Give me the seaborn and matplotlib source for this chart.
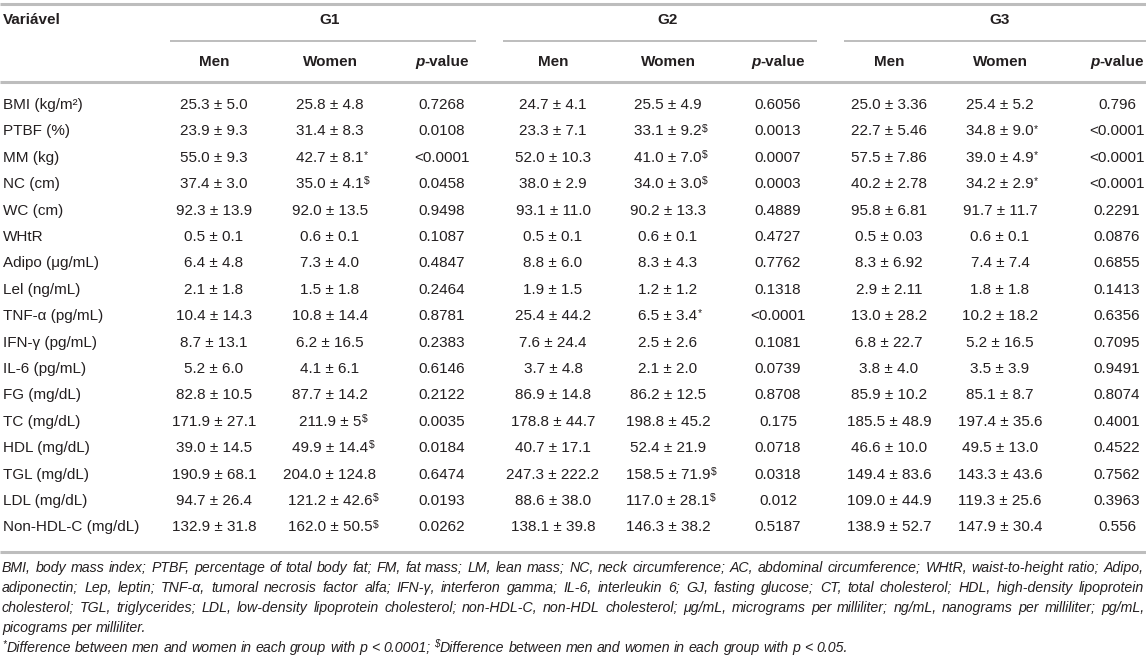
import matplotlib
matplotlib.use("Agg")
import matplotlib.pyplot as plt
import seaborn as sns

# ---- dados da tabela ----
variables = ["BMI (kg/m²)", "PTBF (%)", "MM (kg)", "NC (cm)", "WC (cm)", "WHtR",
             "Adipo (μg/mL)", "Lel (ng/mL)", "TNF-α (pg/mL)", "IFN-γ (pg/mL)",
             "IL-6 (pg/mL)", "FG (mg/dL)", "TC (mg/dL)", "HDL (mg/dL)",
             "TGL (mg/dL)", "LDL (mg/dL)", "Non-HDL-C (mg/dL)"]

g1_men = ["25.3 ± 5.0", "23.9 ± 9.3", "55.0 ± 9.3", "37.4 ± 3.0", "92.3 ± 13.9", "0.5 ± 0.1",
          "6.4 ± 4.8", "2.1 ± 1.8", "10.4 ± 14.3", "8.7 ± 13.1", "5.2 ± 6.0", "82.8 ± 10.5",
          "171.9 ± 27.1", "39.0 ± 14.5", "190.9 ± 68.1", "94.7 ± 26.4", "132.9 ± 31.8"]
g1_women = ["25.8 ± 4.8", "31.4 ± 8.3", "42.7 ± 8.1", "35.0 ± 4.1", "92.0 ± 13.5", "0.6 ± 0.1",
            "7.3 ± 4.0", "1.5 ± 1.8", "10.8 ± 14.4", "6.2 ± 16.5", "4.1 ± 6.1", "87.7 ± 14.2",
            "211.9 ± 5", "49.9 ± 14.4", "204.0 ± 124.8", "121.2 ± 42.6", "162.0 ± 50.5"]
g1_sig = ["", "", "*", "$", "", "", "", "", "", "", "", "", "$", "$", "", "$", "$"]
g1_p = ["0.7268", "0.0108", "<0.0001", "0.0458", "0.9498", "0.1087", "0.4847", "0.2464",
        "0.8781", "0.2383", "0.6146", "0.2122", "0.0035", "0.0184", "0.6474", "0.0193", "0.0262"]

g2_men = ["24.7 ± 4.1", "23.3 ± 7.1", "52.0 ± 10.3", "38.0 ± 2.9", "93.1 ± 11.0", "0.5 ± 0.1",
          "8.8 ± 6.0", "1.9 ± 1.5", "25.4 ± 44.2", "7.6 ± 24.4", "3.7 ± 4.8", "86.9 ± 14.8",
          "178.8 ± 44.7", "40.7 ± 17.1", "247.3 ± 222.2", "88.6 ± 38.0", "138.1 ± 39.8"]
g2_women = ["25.5 ± 4.9", "33.1 ± 9.2", "41.0 ± 7.0", "34.0 ± 3.0", "90.2 ± 13.3", "0.6 ± 0.1",
            "8.3 ± 4.3", "1.2 ± 1.2", "6.5 ± 3.4", "2.5 ± 2.6", "2.1 ± 2.0", "86.2 ± 12.5",
            "198.8 ± 45.2", "52.4 ± 21.9", "158.5 ± 71.9", "117.0 ± 28.1", "146.3 ± 38.2"]
g2_sig = ["", "$", "$", "$", "", "", "", "", "*", "", "", "", "", "", "$", "$", ""]
g2_p = ["0.6056", "0.0013", "0.0007", "0.0003", "0.4889", "0.4727", "0.7762", "0.1318",
        "<0.0001", "0.1081", "0.0739", "0.8708", "0.175", "0.0718", "0.0318", "0.012", "0.5187"]

g3_men = ["25.0 ± 3.36", "22.7 ± 5.46", "57.5 ± 7.86", "40.2 ± 2.78", "95.8 ± 6.81", "0.5 ± 0.03",
          "8.3 ± 6.92", "2.9 ± 2.11", "13.0 ± 28.2", "6.8 ± 22.7", "3.8 ± 4.0", "85.9 ± 10.2",
          "185.5 ± 48.9", "46.6 ± 10.0", "149.4 ± 83.6", "109.0 ± 44.9", "138.9 ± 52.7"]
g3_women = ["25.4 ± 5.2", "34.8 ± 9.0", "39.0 ± 4.9", "34.2 ± 2.9", "91.7 ± 11.7", "0.6 ± 0.1",
            "7.4 ± 7.4", "1.8 ± 1.8", "10.2 ± 18.2", "5.2 ± 16.5", "3.5 ± 3.9", "85.1 ± 8.7",
            "197.4 ± 35.6", "49.5 ± 13.0", "143.3 ± 43.6", "119.3 ± 25.6", "147.9 ± 30.4"]
g3_sig = ["", "*", "*", "*", "", "", "", "", "", "", "", "", "", "", "", "", ""]
g3_p = ["0.796", "<0.0001", "<0.0001", "<0.0001", "0.2291", "0.0876", "0.6855", "0.1413",
        "0.6356", "0.7095", "0.9491", "0.8074", "0.4001", "0.4522", "0.7562", "0.3963", "0.556"]

groups = ["G1", "G2", "G3"]
group_cols = [(g1_men, g1_women, g1_sig, g1_p),
              (g2_men, g2_women, g2_sig, g2_p),
              (g3_men, g3_women, g3_sig, g3_p)]

notes = [
    "BMI, body mass index; PTBF, percentage of total body fat; FM, fat mass; LM, lean mass; NC, neck circumference; AC, abdominal circumference; WHtR, waist-to-height ratio; Adipo,",
    "adiponectin; Lep, leptin; TNF-α, tumoral necrosis factor alfa; IFN-γ, interferon gamma; IL-6, interleukin 6; GJ, fasting glucose; CT, total cholesterol; HDL, high-density lipoprotein",
    "cholesterol; TGL, triglycerides; LDL, low-density lipoprotein cholesterol; non-HDL-C, non-HDL cholesterol; μg/mL, micrograms per milliliter; ng/mL, nanograms per milliliter; pg/mL,",
    "picograms per milliliter.",
]
note_sig = [("*", "Difference between men and women in each group with p < 0.0001;"),
            ("$", "Difference between men and women in each group with p < 0.05.")]

# ---- layout (pixels) ----
sns.set_theme(style="white")
plt.rcParams["font.family"] = ["Liberation Sans", "DejaVu Sans"]
TXT = "#231f20"
RULE = "#bdbdbd"
FS = 11

W, H = 1146, 658
fig = plt.figure(figsize=(W / 100, H / 100), dpi=100)
ax = fig.add_axes([0, 0, 1, 1])
ax.set_xlim(0, W)
ax.set_ylim(H, 0)
ax.axis("off")
rend = fig.canvas.get_renderer()

col_x = [(214, 330, 442), (553, 668, 778), (889, 1000, 1117)]
span_x = [(170, 476), (503, 817), (844, W)]
y_top, y_grp, y_span, y_sub, y_hrule = 4, 20, 41, 62, 82
y0, dy = 105, 26.4
y_bottom = 552
note_y = [568, 588, 608, 628, 648]


def width(t):
    return t.get_window_extent(rend).width


# linhas horizontais
ax.hlines([y_top, y_hrule, y_bottom], 0, W, color=RULE, lw=2.2)
for a, b in span_x:
    ax.hlines(y_span, a, b, color=RULE, lw=1.4)

# cabeçalho
ax.text(3, y_grp, "Variável", ha="left", va="center", fontsize=FS, fontweight="bold", color=TXT)
for g, cx in zip(groups, col_x):
    ax.text(cx[1], y_grp, g, ha="center", va="center", fontsize=FS, fontweight="bold", color=TXT)
    ax.text(cx[0], y_sub, "Men", ha="center", va="center", fontsize=FS, fontweight="bold", color=TXT)
    ax.text(cx[1], y_sub, "Women", ha="center", va="center", fontsize=FS, fontweight="bold", color=TXT)
    tp = ax.text(0, y_sub, "p", ha="left", va="center", fontsize=FS, fontweight="bold",
                 fontstyle="italic", color=TXT)
    tv = ax.text(0, y_sub, "-value", ha="left", va="center", fontsize=FS, fontweight="bold", color=TXT)
    wp, wv = width(tp), width(tv)
    tp.set_x(cx[2] - (wp + wv) / 2)
    tv.set_x(cx[2] - (wp + wv) / 2 + wp)

# corpo da tabela
for i, var in enumerate(variables):
    y = y0 + i * dy
    ax.text(3, y, var, ha="left", va="center", fontsize=FS, color=TXT)
    for (men, women, sig, pv), cx in zip(group_cols, col_x):
        ax.text(cx[0], y, men[i], ha="center", va="center", fontsize=FS, color=TXT)
        tw = ax.text(cx[1], y, women[i], ha="center", va="center", fontsize=FS, color=TXT)
        if sig[i]:
            # sobrescrito: linha de base a meia altura dos algarismos
            ax.annotate(sig[i], xy=(1, 0.48), xycoords=tw, xytext=(0.3, 0),
                        textcoords="offset points", ha="left", va="baseline",
                        fontsize=7.5, color=TXT)
        ax.text(cx[2], y, pv[i], ha="center", va="center", fontsize=FS, color=TXT)

# notas de rodapé (justificadas); tamanho ajustado à largura da primeira linha
probe = ax.text(0, 0, notes[0], fontsize=10, fontstyle="italic")
FS_NOTE = 10 * (W - 6) / width(probe) * 0.985
probe.remove()

note_kw = dict(fontsize=FS_NOTE, fontstyle="italic", color=TXT, va="center", ha="left")
space = width(ax.text(0, 0, "a a", **note_kw)) - 2 * width(ax.text(0, 0, "a", **note_kw))
for a in ax.texts[-2:]:
    a.remove()

for k, line in enumerate(notes):
    words = line.split(" ")
    arts = [ax.text(0, note_y[k], w, **note_kw) for w in words]
    ws = [width(a) for a in arts]
    last = k == len(notes) - 1
    gap = space if last else (W - 4 - sum(ws)) / (len(ws) - 1)
    x = 2
    for a, w in zip(arts, ws):
        a.set_x(x)
        x += w + gap

x = 2
for mark, sentence in note_sig:
    s = ax.text(x, note_y[4] - 4, mark, fontsize=FS_NOTE * 0.7, fontstyle="italic",
                color=TXT, va="center", ha="left")
    x += width(s) + 0.5
    for w in sentence.split(" "):
        a = ax.text(x, note_y[4], w, **note_kw)
        x += width(a) + space

fig.savefig("out.png", dpi=100, facecolor="white")
